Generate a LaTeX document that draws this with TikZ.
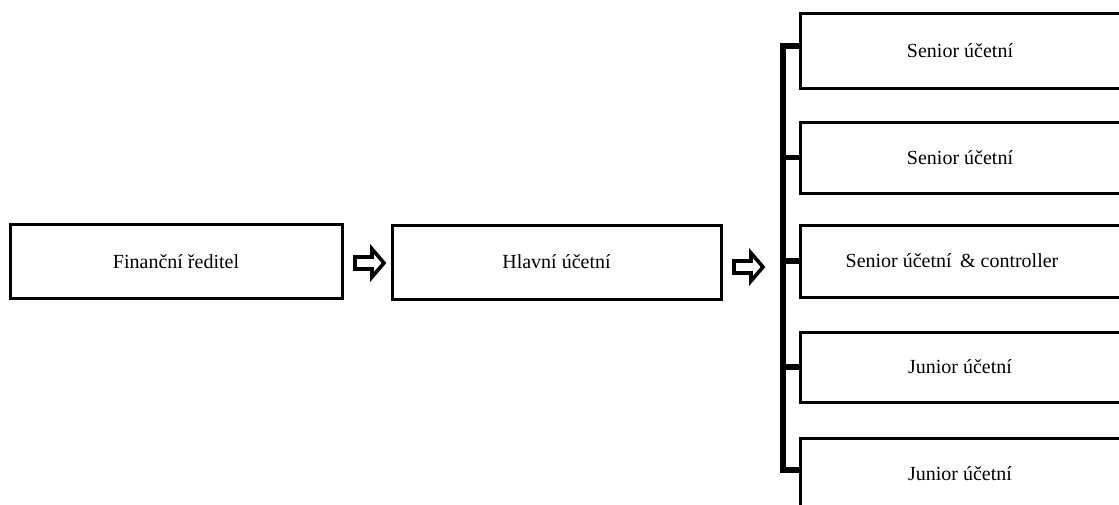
\documentclass[tikz,border=0pt]{standalone}
\usepackage{fontspec}
\setmainfont{Liberation Serif}
\begin{document}
\begin{tikzpicture}[x=1pt,y=-1pt,
  box/.style={draw=black,line width=3pt,fill=white,minimum width=#1,minimum height=74pt,inner sep=0pt,font=\fontsize{20}{24}\selectfont},
  rbox/.style={box=320pt,minimum height=73pt},
  bus/.style={line width=5.5pt,line cap=butt},
  blockarrow/.style={draw=black,line width=3.6pt,fill=white,line join=miter}]
\useasboundingbox (0,0) rectangle (1119,504);
\clip (0,0) rectangle (1119,504);
\node[box=332pt] (fd) at (176,261.5) {Finanční ředitel};
\node[box=329pt] (hu) at (556.5,262) {Hlavní účetní};
\node[rbox,minimum height=75pt] (r1) at (960,50.5) {Senior účetní};
\node[rbox,minimum height=71pt] (r2) at (960,157.5) {Senior účetní};
\node[rbox,minimum height=72pt] (r3) at (960,261) {\hspace*{-16pt}Senior účetní \,\& controller};
\node[rbox,minimum height=70pt] (r4) at (960,367) {Junior účetní};
\node[rbox,minimum height=72pt] (r5) at (960,474) {Junior účetní};
% block arrows
\coordinate (a1) at (355,263);
\draw[blockarrow] (a1) ++(0,-6) -- ++(17,0) -- ++(0,-8) -- ++(12,14) -- ++(-12,14) -- ++(0,-8) -- ++(-17,0) -- cycle;
\coordinate (a2) at (734,267);
\draw[blockarrow] (a2) ++(0,-6) -- ++(17,0) -- ++(0,-8) -- ++(12,14) -- ++(-12,14) -- ++(0,-8) -- ++(-17,0) -- cycle;
% bus
\coordinate (bt) at (783,46);
\coordinate (bb) at (783,470);
\draw[bus] (r1.west |- bt) -- (bt) -- (bb) -- (r5.west |- bb);
\draw[bus] (r2.west) -- (r2.west -| bt);
\draw[bus] (r3.west) -- (r3.west -| bt);
\draw[bus] (r4.west) -- (r4.west -| bt);
\end{tikzpicture}
\end{document}
